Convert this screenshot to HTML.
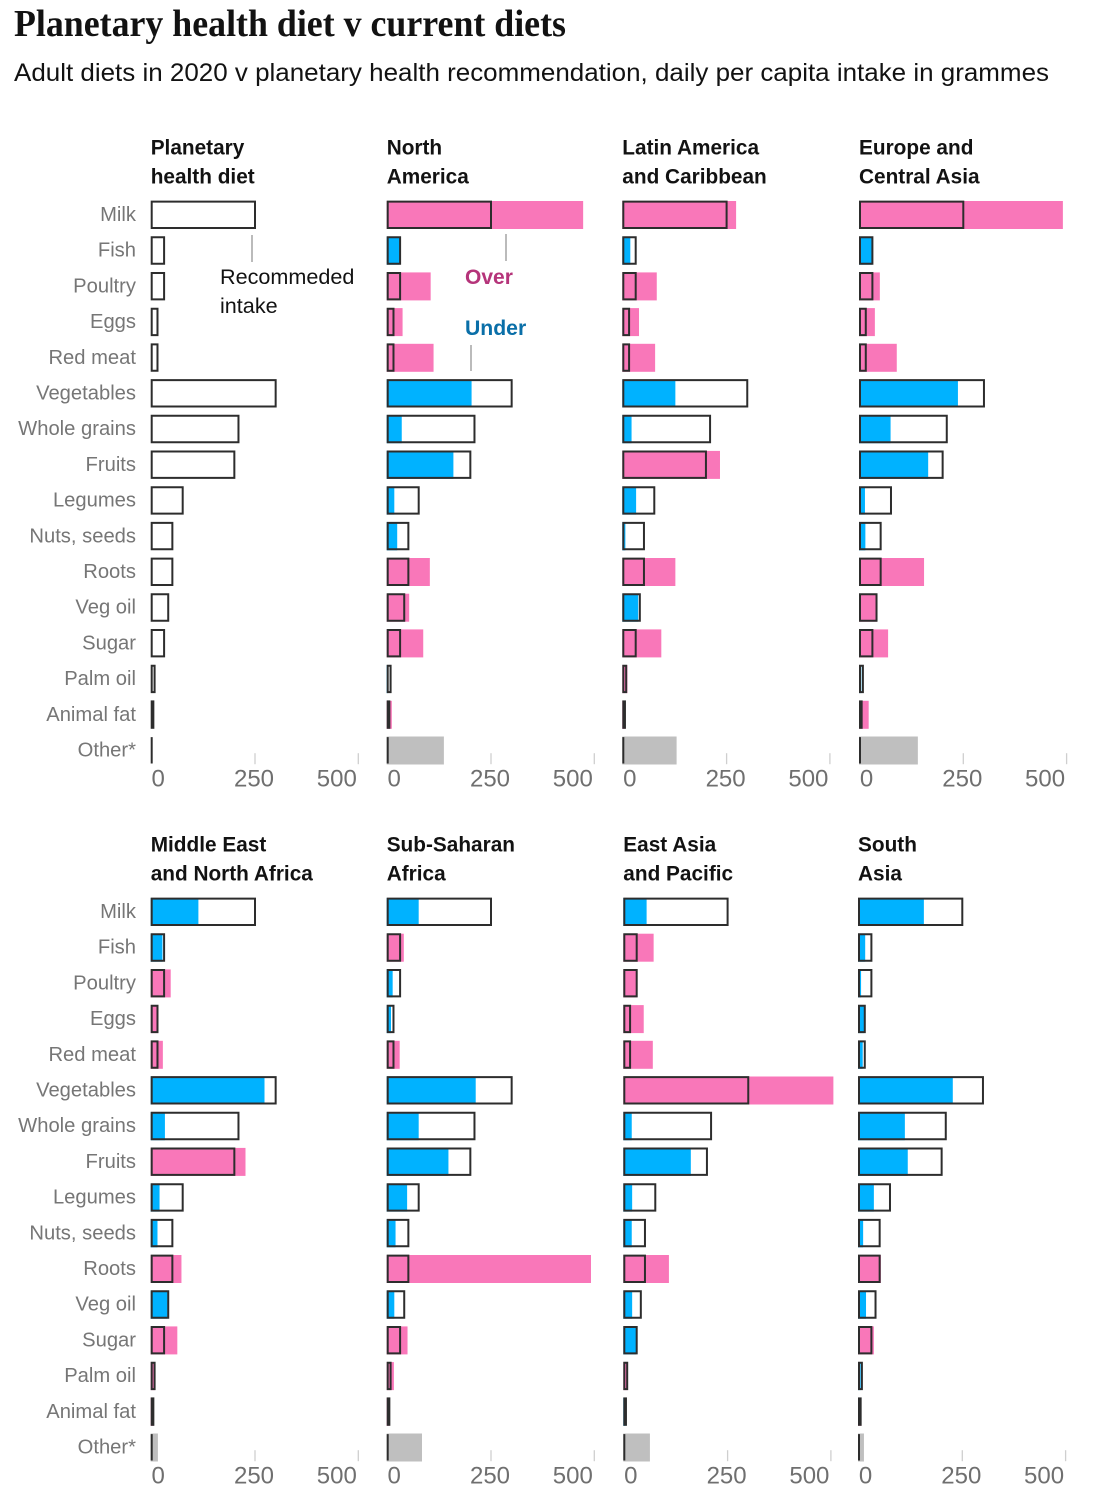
<!DOCTYPE html>
<html lang="en">
<head>
<meta charset="utf-8">
<title>Planetary health diet v current diets</title>
<style>
html,body{margin:0;padding:0;background:#fff;}
svg{display:block;font-family:"Liberation Sans",sans-serif;}
</style>
</head>
<body>
<svg id="chart" xmlns="http://www.w3.org/2000/svg" width="1100" height="1502" viewBox="0 0 1100 1502">
  <rect width="1100" height="1502" fill="#fff"/>
  <text x="14" y="36" font-family="'Liberation Serif',serif" font-weight="700" font-size="38" fill="#121212" textLength="552" lengthAdjust="spacingAndGlyphs">Planetary health diet v current diets</text>
  <text x="14" y="81" font-size="25" fill="#121212" textLength="1035" lengthAdjust="spacingAndGlyphs">Adult diets in 2020 v planetary health recommendation, daily per capita intake in grammes</text>
  <g id="panels"></g>
  <g>
    <line x1="252" y1="235" x2="252" y2="262" stroke="#777" stroke-width="1"/>
    <text font-size="21.6" fill="#121212"><tspan x="220" y="284">Recommeded</tspan><tspan x="220" y="313">intake</tspan></text>
    <line x1="506" y1="234" x2="506" y2="261" stroke="#777" stroke-width="1"/>
    <text x="465" y="284" font-size="21" font-weight="700" fill="#b5347a">Over</text>
    <text x="465" y="335" font-size="21.2" font-weight="700" fill="#0a6fa8">Under</text>
    <line x1="471" y1="345" x2="471" y2="371" stroke="#777" stroke-width="1"/>
  </g>
</svg>
<script>
const foods = ['Milk','Fish','Poultry','Eggs','Red meat','Vegetables','Whole grains','Fruits','Legumes','Nuts, seeds','Roots','Veg oil','Sugar','Palm oil','Animal fat','Other*'];
const recommended = [250,30,30,14,14,300,210,200,75,50,50,40,30,7,4,0];
const northAmerica = [473,29,104,36,111,203,34,159,16,23,102,52,86,1,10,136];
const latinAmerica = [273,17,81,38,77,126,20,234,31,5,126,36,92,10,4,129];
const europeCentralAsia = [491,29,48,36,89,237,74,165,12,13,155,41,68,3,21,140];
const middleEastNorthAfrica = [113,26,46,16,27,273,32,227,19,14,72,38,62,8,5,15];
const subSaharanAfrica = [75,39,12,8,29,213,75,147,47,19,492,16,48,15,4,83];
const eastAsiaPacific = [54,71,31,47,69,506,18,161,19,18,108,19,29,8,3,62];
const southAsia = [157,15,5,13,9,227,111,118,36,10,53,17,36,4,6,12];
const tickValues = [0,250,500];

const NS = 'http://www.w3.org/2000/svg';
const root = document.getElementById('panels');
const SCALE = 103.3 / 250;
const ROW_STEP = 35.7;
const BAR_H = 28;

function xLen(v) { return v * SCALE; }
function rowTop(top, i) { return top + i * ROW_STEP; }
function slug(s) { return s.toLowerCase().replace(/[^a-z0-9]+/g, '-').replace(/^-|-$/g, ''); }

function make(tag, attrs, parent) {
  const el = document.createElementNS(NS, tag);
  for (const k in attrs) el.setAttribute(k, attrs[k]);
  parent.appendChild(el);
  return el;
}

function drawPanel(name, heading, values, left, top, showLabels) {
  const g = make('g', {}, root);
  
  

  const title = make('text', {x: left, y: top - 46, 'font-size': 20.8, 'font-weight': 700, fill: '#121212'}, g);
  
  
  const l1 = make('tspan', {x: left, y: top - 46}, title);
  l1.textContent = heading[0];
  const l2 = make('tspan', {x: left, y: top - 17}, title);
  l2.textContent = heading[1];

  foods.forEach(function (food, i) {
    const y = rowTop(top, i);
    const rec = recommended[i];
    if (showLabels) {
      const lab = make('text', {x: 136, y: y + 20.3, 'text-anchor': 'end', 'font-size': 20.2, fill: '#767676'}, root);
      
      
      lab.textContent = food;
    }
    if (values) {
      const v = values[i];
      const colour = food === 'Other*' ? '#bfbfbf' : (v >= rec ? '#f977b9' : '#00b2ff');
      const bar = make('rect', {x: left, y: y + 0.3, width: xLen(v) + 1, height: BAR_H, fill: colour}, g);
      
      
    }
    const ox = left + 1, oy = y + 0.9, oh = BAR_H - 1.6;
    const outline = make('path', {d: 'M' + ox + ' ' + oy + 'h' + xLen(rec) + 'v' + oh + 'h' + (-xLen(rec)) + 'z', fill: 'none', stroke: '#2d2d2d', 'stroke-width': 2}, g);
    
    
  });

  const axisBottom = rowTop(top, 15) + BAR_H;
  tickValues.forEach(function (t) {
    const tx = left + 1 + xLen(t);
    if (t > 0) {
      const tick = make('line', {x1: tx, x2: tx, y1: axisBottom - 11, y2: axisBottom, stroke: '#cfcfcf', 'stroke-width': 1.3}, g);
      
      
    }
    let anchor = 'middle', lx = tx - 1;
    if (t === 0) { lx = left + 7.5; }
    if (t === tickValues[tickValues.length - 1]) { anchor = 'end'; lx = tx - 1.5; }
    const label = make('text', {x: lx, y: axisBottom + 22.5, 'text-anchor': anchor, 'font-size': 24, fill: '#6f6f6f'}, g);
    
    
    label.textContent = String(t);
  });
}

drawPanel('Planetary health diet', ['Planetary', 'health diet'], null, 150.7, 200.7, true);
drawPanel('North America', ['North', 'America'], northAmerica, 386.7, 200.7, false);
drawPanel('Latin America and Caribbean', ['Latin America', 'and Caribbean'], latinAmerica, 622.3, 200.7, false);
drawPanel('Europe and Central Asia', ['Europe and', 'Central Asia'], europeCentralAsia, 859, 200.7, false);
drawPanel('Middle East and North Africa', ['Middle East', 'and North Africa'], middleEastNorthAfrica, 150.7, 897.7, true);
drawPanel('Sub-Saharan Africa', ['Sub-Saharan', 'Africa'], subSaharanAfrica, 386.7, 897.7, false);
drawPanel('East Asia and Pacific', ['East Asia', 'and Pacific'], eastAsiaPacific, 623.3, 897.7, false);
drawPanel('South Asia', ['South', 'Asia'], southAsia, 858, 897.7, false);
</script>
</body>
</html>
